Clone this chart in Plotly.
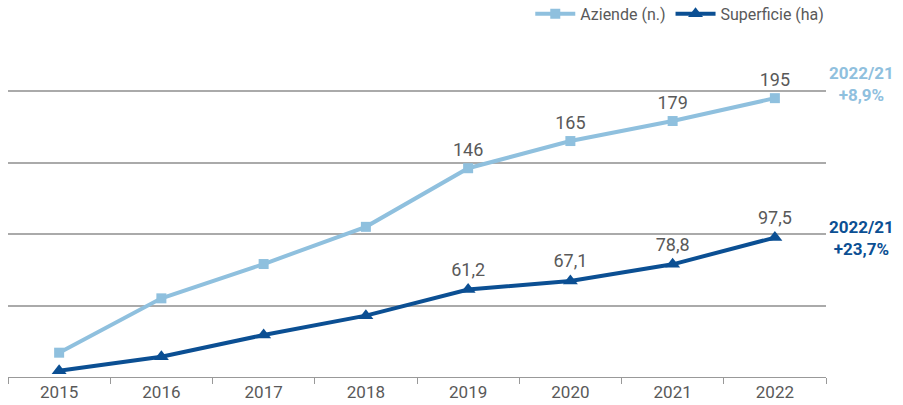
import plotly.graph_objects as go

years = ["2015", "2016", "2017", "2018", "2019", "2020", "2021", "2022"]
aziende = [17, 55, 79, 105, 146, 165, 179, 195]
superficie = [4.4, 14.2, 29.4, 42.9, 61.2, 67.1, 78.8, 97.5]
aziende_labels = ["", "", "", "", "146", "165", "179", "195"]
superficie_labels = ["", "", "", "", "61,2", "67,1", "78,8", "97,5"]

light = "#8fc0de"
dark = "#0b4f93"
FONT = "Roboto, Arial, sans-serif"

fig = go.Figure()
fig.add_trace(go.Scatter(
    x=years, y=aziende, name="Aziende (n.)", mode="lines+markers+text",
    line=dict(color=light, width=4), marker=dict(symbol="square", size=10, color=light),
    text=aziende_labels, textposition="top center",
    textfont=dict(size=18, color="#595959", family=FONT), cliponaxis=False))
fig.add_trace(go.Scatter(
    x=years, y=superficie, name="Superficie (ha)", mode="lines+markers+text",
    line=dict(color=dark, width=4), marker=dict(symbol="triangle-up", size=13, color=dark),
    text=superficie_labels, textposition="top center",
    textfont=dict(size=18, color="#595959", family=FONT), cliponaxis=False))

fig.add_annotation(xref="paper", yref="paper", x=1.044, y=1.01, xanchor="center", yanchor="middle",
                   text="<b>2022/21<br>+8,9%</b>",
                   showarrow=False, align="center", font=dict(size=17, color=light, family=FONT))
fig.add_annotation(xref="paper", yref="paper", x=1.044, y=0.479, xanchor="center", yanchor="middle",
                   text="<b>2022/21<br>+23,7%</b>",
                   showarrow=False, align="center", font=dict(size=17, color=dark, family=FONT))

fig.update_layout(
    width=903, height=405, margin=dict(l=8, r=77, t=87, b=28, autoexpand=False),
    plot_bgcolor="white", paper_bgcolor="white",
    font=dict(family=FONT, size=16, color="#595959"),
    showlegend=True,
    legend=dict(orientation="h", x=1.004, xanchor="right", y=1.252, yanchor="middle",
                font=dict(size=16, color="#595959", family=FONT), itemwidth=40),
    xaxis=dict(type="category", range=[-0.5, 7.5], showgrid=False, showline=True,
               linecolor="#999999", linewidth=1, ticks="outside", tickson="boundaries",
               ticklen=6, tickcolor="#999999", tickfont=dict(size=17, color="#595959")),
    yaxis=dict(range=[0, 202.8], tickvals=[50, 100, 150, 200], showgrid=True,
               gridcolor="#aaaaaa", gridwidth=1.5,
               showticklabels=False, zeroline=False, showline=False),
)
fig.write_html("out.html", config={"displayModeBar": False},
               post_script="document.body.style.margin='0';")
